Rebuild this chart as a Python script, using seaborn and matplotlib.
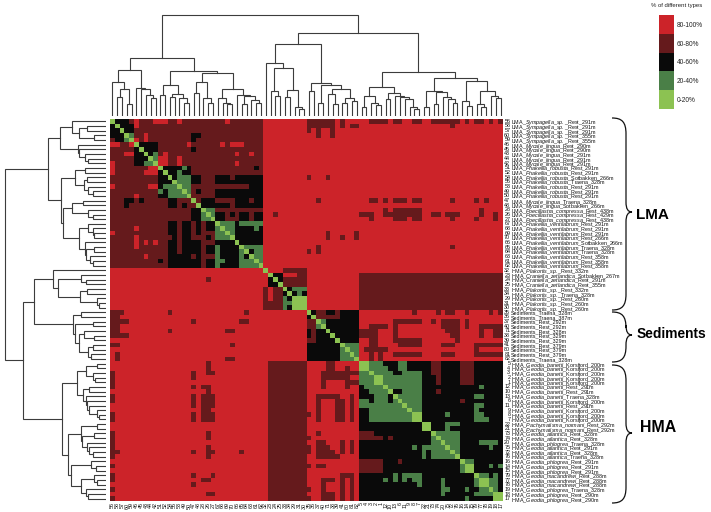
import numpy as np
import matplotlib
matplotlib.use("Agg")
import matplotlib.pyplot as plt
from matplotlib.colors import ListedColormap
from matplotlib.path import Path
from matplotlib.patches import PathPatch
import seaborn as sns

plt.rcParams['font.family'] = ['Liberation Sans', 'DejaVu Sans']
plt.rcParams['mathtext.fontset'] = 'custom'
plt.rcParams['mathtext.rm'] = 'Liberation Sans'
plt.rcParams['mathtext.it'] = 'Liberation Sans:italic'
plt.rcParams['mathtext.bf'] = 'Liberation Sans:bold'

W, H = 711, 512

# ---------------------------------------------------------------- data
sample_ids = [56,58,57,60,59,46,45,43,44,42,51,52,54,55,53,49,50,47,48,28,26,27,
              67,68,69,70,66,65,64,63,61,62,32,23,24,25,33,34,29,31,30,
              35,36,37,40,71,38,39,41,80,81,82,
              5,4,3,2,1,12,10,13,6,11,9,8,7,22,21,73,74,20,75,72,76,16,14,15,79,77,78,19,18,17]

lma_names = ["LMA|Sympagella_sp.|Rest_291m"]*3 + ["LMA|Sympagella_sp.|Rest_355m"]*2 + \
    ["LMA|Mycale_lingua|Rest_290m"]*2 + ["LMA|Mycale_lingua|Rest_291m"]*3 + \
    ["LMA|Phakellia_robusta|Rest_291m"]*2 + ["LMA|Phakellia_robusta|Sotbakken_266m",
     "LMA|Phakellia_robusta|Traena_328m"] + ["LMA|Phakellia_robusta|Rest_291m"]*3 + \
    ["LMA|Mycale_lingua|Traena_328m", "LMA|Mycale_lingua|Sotbakken_266m",
     "LMA|Poecillastra_compressa|Rest_438m", "LMA|Poecillastra_compressa|Rest_429m",
     "LMA|Poecillastra_compressa|Rest_438m"] + \
    ["LMA|Phakellia_ventilabrum|Rest_291m"]*3 + ["LMA|Phakellia_ventilabrum|Rest_266m",
     "LMA|Phakellia_ventilabrum|Sotbakken_266m"] + ["LMA|Phakellia_ventilabrum|Traena_328m"]*2 + \
    ["LMA|Phakellia_ventilabrum|Rest_358m"]*3
hma_top_names = ["HMA|Plakortis_sp.|Rest_332m", "HMA|Craniella_zetlandica|Sotbakken_267m",
    "HMA|Craniella_zetlandica|Rest_291m", "HMA|Craniella_zetlandica|Rest_355m",
    "HMA|Plakortis_sp.|Rest_332m", "HMA|Plakortis_sp.|Traena_328m"] + \
    ["HMA|Plakortis_sp.|Rest_260m"]*3
sediment_names = ["Sediments||Traena_328m", "Sediments||Traena_387m", "Sediments||Rest_292m",
    "Sediments||Rest_292m", "Sediments||Rest_328m", "Sediments||Rest_329m", "Sediments||Rest_329m",
    "Sediments||Rest_379m", "Sediments||Rest_379m", "Sediments||Rest_379m", "Sediments||Traena_328m"]
hma_names = ["HMA|Geodia_barretti|Korsfjord_200m"]*5 + ["HMA|Geodia_barretti|Rest_291m"]*2 + \
    ["HMA|Geodia_barretti|Traena_328m", "HMA|Geodia_barretti|Korsfjord_200m",
     "HMA|Geodia_barretti|Rest_291m"] + ["HMA|Geodia_barretti|Korsfjord_200m"]*3 + \
    ["HMA|Pachymatisma_normani|Rest_292m"]*2 + ["HMA|Geodia_atlantica|Rest_328m"]*2 + \
    ["HMA|Geodia_phlogrea|Traena_328m", "HMA|Geodia_atlantica|Rest_291m",
     "HMA|Geodia_atlantica|Rest_328m", "HMA|Geodia_atlantica|Traena_328m"] + \
    ["HMA|Geodia_phlogrea|Rest_291m"]*3 + ["HMA|Geodia_macandrewi|Rest_288m"]*3 + \
    ["HMA|Geodia_phlogrea|Traena_328m"] + ["HMA|Geodia_phlogrea|Rest_290m"]*2
sample_names = lma_names + hma_top_names + sediment_names + hma_names

legend_labels = ["80-100%", "60-80%", "40-60%", "20-40%", "0-20%"]
legend_levels = [4, 3, 2, 1, 0]
palette = ["#8CC252", "#4A7F47", "#0A0A0A", "#651A1C", "#CC2329"]

# percentage class of every pair, read by row (upper triangle; the matrix is symmetric)
red_cells = {0:"5,9-11,14,24", 1:"5", 3:"7", 4:"5,7", 5:"16,23,25-27", 7:"11,26,29",
             8:"10,11,14", 9:"10,11,14,26"}
dark_cells = {0:"41-46,48,54-57,59,60,63,64,67-72,74,76,77,79,81",
              1:"41-46,48,50,51,71", 2:"41,43,46", 3:"43,46", 12:"41,45",
              17:"43,54,55,57,59-61,63,64,71,76,78", 19:"57,59-64,77",
              20:"34,52-54,57-64,67,68,70-72,77,80", 21:"54,59-61,63,64,71,76,80",
              24:"45,51", 25:"45,48,51", 27:"43,71", 28:"41,43",
              32:"36-40", 33:"39,40", 34:"36-40", 35:"36-40",
              41:"43,44,47,63,68,70,71,74,79,81", 42:"43-47",
              43:"59-64,67,69-72,74", 44:"54-57,59,69-72,74,77-81",
              45:"52-55,59,70-72,77,80,81", 46:"52-55,59,71,72,77,80,81",
              47:"54,55,59-64,72", 48:"54,55,60-64,69-71,76-81", 49:"53-57,76",
              50:"54,56,59-64,69-71,76-81", 51:"54,56",
              52:"67,68,73-75", 53:"67,68,73-75", 54:"67,68,73-75", 55:"68,73-75",
              56:"68,73-75", 58:"68", 60:"73"}
black_cells = {0:"1-3", 1:"2-4", 2:"3,4", 3:"17,18", 4:"17", 5:"6-9", 6:"7-9,17", 7:"8",
               10:"11-14,16,30", 11:"12,13,15,16", 12:"13,17,18,22-24,26-31",
               13:"17,18,22-31", 14:"29-31", 15:"18,22-31", 16:"22-31",
               17:"19-21,26-28,30,31", 18:"19-24,26-31", 20:"22,23,25,27,28,30,31",
               21:"22,23,27,28,30,31", 22:"26", 23:"26-29,31", 24:"26-31", 25:"26-31",
               26:"27-31", 28:"29", 33:"34,35", 34:"35", 36:"37", 37:"38,40"}
green_cells = {3:"4", 7:"9", 8:"9", 10:"15", 11:"14", 12:"14-16", 13:"14-16", 14:"15,16",
               15:"16", 19:"20,21", 20:"21", 22:"23-25,27-31", 23:"24,25,30", 24:"25",
               27:"28-31", 28:"30,31", 29:"30,31", 30:"31", 36:"38-40", 37:"39", 43:"44",
               48:"49-51", 49:"50,51", 50:"51",
               52:"54-56,60,61", 53:"54-57,60,61", 54:"55-58,61-64", 55:"57-64", 56:"57-64",
               57:"58-64,77", 58:"61-64", 59:"60-64,76,77", 60:"61-64", 61:"62-64,76,77",
               62:"63,64,76", 63:"70,76,77", 64:"76-78", 65:"70-72", 66:"70", 67:"68-72",
               68:"69-72", 69:"70-72,77-80", 70:"71,72,79", 71:"72", 73:"74,75", 74:"79,81",
               76:"77,78,80", 77:"79,80", 78:"79,80", 79:"80"}
light_cells = {38:"39,40", 39:"40", 52:"53", 55:"56", 63:"64", 65:"66", 74:"75", 77:"78", 80:"81"}

# shared clustering tree: (merge height, left, right); integers are samples
tree_lma_a = (103, 0, (81, (58, 1, 2), (35, 3, 4)))
tree_lma_b = (85, 5, (81, 6, (63, 7, (53, 8, 9))))
tree_lma_c = (93, (64, 10, 11), (65, (58, 12, 13), (53, 14, (38, 15, 16))))
tree_lma_d = (101, (68, 17, 18), (53, 19, (38, 20, 21)))
tree_lma_e = (53, 22, (40, 23, (36, 24, 25)))
tree_lma_f = (64, 26, (60, (35, 27, 28), (48, 29, (38, 30, 31))))
tree_lma = (175, (138, tree_lma_a, tree_lma_b),
            (135, tree_lma_c, (128, tree_lma_d, (81, tree_lma_e, tree_lma_f))))
tree_plak = (160, 32, (143, (75, 33, (60, 34, 35)),
                       (78, (58, 36, 37), (28, 38, (21, 39, 40)))))
tree_sed = (98, (75, 41, 42), (93, (38, 43, 44),
            (80, (65, 45, (35, 46, 47)), (55, (40, 48, 49), (45, 50, 51)))))
tree_h1 = (86, (60, (26, 52, 53), (38, 54, (33, 55, 56))),
           (70, (50, 57, 58), (60, 59, (56, 60, (50, 61, (28, 62, (21, 63, 64)))))))
tree_h2 = (76, (26, 65, 66), (71, (35, 67, 68), (56, 69, (50, 70, (38, 71, 72)))))
tree_h3 = (104, (45, 73, (30, 74, 75)), (76, (36, 76, (26, 77, 78)), (60, 79, (53, 80, 81))))
tree_root = (304, tree_lma, (250, (215, tree_plak, tree_sed),
                             (131, tree_h1, (113, tree_h2, tree_h3))))


def parse_cells(spec):
    out = []
    for part in spec.split(","):
        if "-" in part:
            a, b = part.split("-")
            out.extend(range(int(a), int(b) + 1))
        else:
            out.append(int(part))
    return out


n = len(sample_ids)
matrix = np.full((n, n), 4)
matrix[:32, :32] = 3
matrix[41:52, 41:52] = 2
matrix[52:, 52:] = 2
matrix[33:41, 52:] = 3
matrix[52:, 33:41] = 3
for level, table in [(4, red_cells), (3, dark_cells), (2, black_cells), (1, green_cells), (0, light_cells)]:
    for row, spec in table.items():
        for col in parse_cells(spec):
            matrix[row, col] = level
            matrix[col, row] = level
np.fill_diagonal(matrix, 0)

# ---------------------------------------------------------------- figure
fig = plt.figure(figsize=(W / 100, H / 100), dpi=100)


def px_axes(left, top, width, height):
    return fig.add_axes([left / W, 1 - (top + height) / H, width / W, height / H])


def row_label(text):
    group, species, site = text.split("|")
    if species:
        species = species.replace("_", r"\_")
        return group + "_$\\mathit{" + species + "}$_" + site
    return group + "_" + site


cmap = ListedColormap(palette)
ax = px_axes(110, 119, 393, 382)
sns.heatmap(matrix, ax=ax, cmap=cmap, vmin=-0.5, vmax=4.5, cbar=False,
            xticklabels=sample_ids, yticklabels=[row_label(s) for s in sample_names])
ax.yaxis.tick_right()
ax.tick_params(axis='y', length=0, pad=5.8, labelsize=3.9, labelrotation=0, colors="#111111")
ax.tick_params(axis='x', length=0, pad=1, labelsize=3.9, labelrotation=90, colors="#111111")
trans = ax.get_yaxis_transform()
for i, sid in enumerate(sample_ids):
    ax.text(1.0 + 7.3 / 393, i + 0.5, str(sid), transform=trans, ha='right', va='center',
            fontsize=3.9, color="#111111")


def draw_tree(node, axis, orient):
    if isinstance(node, (int, np.integer)):
        return node + 0.5, 0
    h, left, right = node
    p1, h1 = draw_tree(left, axis, orient)
    p2, h2 = draw_tree(right, axis, orient)
    pos = [p1, p1, p2, p2]
    hts = [h1, h, h, h2]
    if orient == "top":
        axis.plot(pos, hts, color="#3c3c3c", lw=0.8, solid_joinstyle='miter')
    else:
        axis.plot(hts, pos, color="#3c3c3c", lw=0.8, solid_joinstyle='miter')
    return (p1 + p2) / 2, h


top = px_axes(110, 10, 393, 106)
draw_tree(tree_root, top, "top")
top.set_xlim(0, n)
top.set_ylim(0, 318)
top.axis("off")

side = px_axes(0, 119, 106, 382)
draw_tree(tree_root, side, "left")
side.set_xlim(318, 0)
side.set_ylim(n, 0)
side.axis("off")

# legend
leg = px_axes(659, 15, 15, 94)
sns.heatmap(np.array(legend_levels).reshape(-1, 1), ax=leg, cmap=cmap, vmin=-0.5, vmax=4.5,
            cbar=False, xticklabels=False, yticklabels=legend_labels)
leg.yaxis.tick_right()
leg.tick_params(axis='y', length=0, pad=2.2, labelsize=4.7, labelrotation=0, colors="#222222")

# overlay in pixel units for braces and group names
ov = fig.add_axes([0, 0, 1, 1])
ov.set_xlim(0, W)
ov.set_ylim(H, 0)
ov.axis("off")
ov.patch.set_alpha(0)
ov.text(676.5, 5, "% of different types", ha='center', va='center', fontsize=4.3, color="#222222")


def brace(y0, ym, y1, x0=612, x1=626, tip=632):
    verts = [(x0, y0), (x1 - 4, y0), (x1, y0 + 4), (x1, y0 + 16), (x1, ym - 10),
             (x1, ym - 3), (x1 + 2, ym), (tip, ym), (x1 + 2, ym), (x1, ym + 3), (x1, ym + 10),
             (x1, y1 - 16), (x1, y1 - 4), (x1 - 4, y1), (x0, y1)]
    codes = [Path.MOVETO, Path.CURVE4, Path.CURVE4, Path.CURVE4, Path.LINETO,
             Path.CURVE4, Path.CURVE4, Path.CURVE4, Path.CURVE4, Path.CURVE4, Path.CURVE4,
             Path.LINETO, Path.CURVE4, Path.CURVE4, Path.CURVE4]
    ov.add_patch(PathPatch(Path(verts, codes), fill=False, ec="#111111", lw=0.9))


brace(118, 212, 310)
brace(312, 335, 362)
brace(365, 433, 503)
ov.text(636, 215, "LMA", fontsize=11, fontweight='bold', va='center', ha='left')
ov.text(637, 334, "Sediments", fontsize=9.9, fontweight='bold', va='center', ha='left')
ov.text(640, 428, "HMA", fontsize=11.4, fontweight='bold', va='center', ha='left')

fig.savefig("out.png", dpi=100)
